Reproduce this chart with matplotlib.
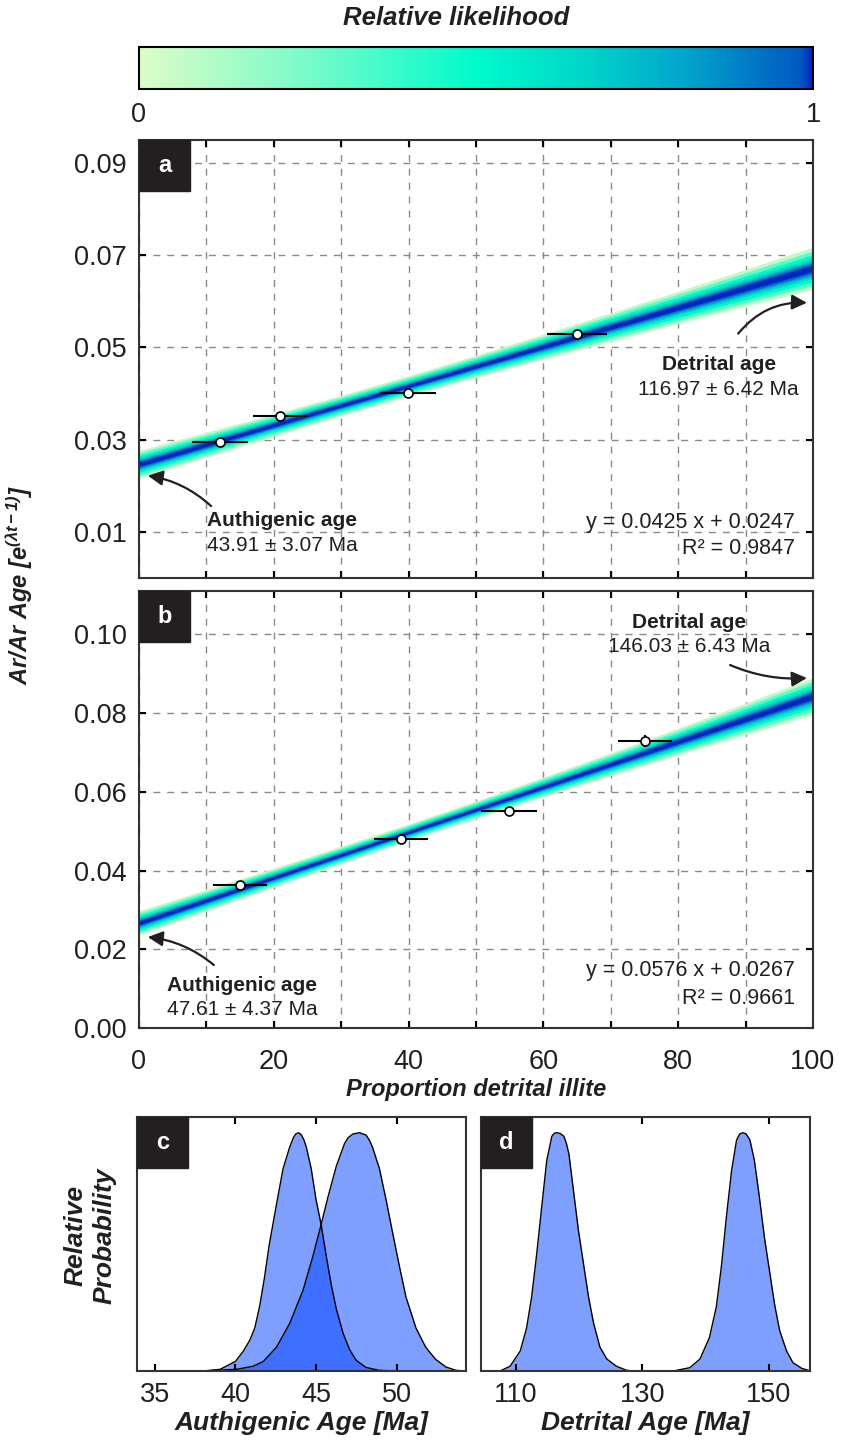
import numpy as np
import matplotlib
matplotlib.use("Agg")
import matplotlib.pyplot as plt
from matplotlib.colors import LinearSegmentedColormap, Normalize
from matplotlib.cm import ScalarMappable
from matplotlib.patches import Rectangle
from matplotlib.ticker import MultipleLocator

plt.rcParams['font.family'] = ['Liberation Sans', 'DejaVu Sans']
plt.rcParams['mathtext.fontset'] = 'custom'
plt.rcParams['mathtext.rm'] = 'Liberation Sans:bold:italic'
plt.rcParams['mathtext.it'] = 'Liberation Sans:bold:italic'
plt.rcParams['mathtext.bf'] = 'Liberation Sans:bold:italic'

# ---- panel a data
a_x = [12.0, 20.9, 39.9, 65.0]
a_y = [0.0294, 0.0351, 0.0402, 0.0530]
a_xerr = [4.2, 4.0, 4.2, 4.5]
a_yerr = [0.0004, 0.0004, 0.0005, 0.0008]
a_slope, a_icpt, a_r2 = 0.0425, 0.0247, 0.9847
a_auth, a_auth_err = 43.91, 3.07
a_detr, a_detr_err = 116.97, 6.42

# ---- panel b data
b_x = [15.0, 38.9, 54.9, 75.1]
b_y = [0.0363, 0.0481, 0.0552, 0.0730]
b_xerr = [4.0, 4.0, 4.2, 4.0]
b_yerr = [0.0005, 0.0006, 0.0010, 0.0015]
b_slope, b_icpt, b_r2 = 0.0576, 0.0267, 0.9661
b_auth, b_auth_err = 47.61, 4.37
b_detr, b_detr_err = 146.03, 6.43

# band half widths (x = 0,10,...,100)
band_x = [0, 10, 20, 30, 40, 50, 60, 70, 80, 90, 100]
a_band_hw = [0.0030, 0.0027, 0.0024, 0.0022, 0.0022, 0.0024, 0.0027, 0.0031, 0.0035, 0.0040, 0.0046]
b_band_hw = [0.0031, 0.0027, 0.0024, 0.0022, 0.0021, 0.0022, 0.0025, 0.0029, 0.0034, 0.0040, 0.0047]
# band layers: fraction of half width, likelihood
layer_frac = [1.0, 0.82, 0.64, 0.48, 0.36, 0.26, 0.16]
layer_like = [0.08, 0.3, 0.5, 0.65, 0.8, 0.94, 1.0]

# ---- panels c, d : relative probability curves
c1_x = [38.0, 39.05, 40.0, 40.5, 40.9, 41.2, 41.5, 41.8, 42.1, 42.55, 42.96, 43.37, 43.6, 43.75,
        43.93, 44.1, 44.25, 44.4, 44.7, 45.0, 45.33, 45.64, 45.95, 46.26, 46.67, 47.08, 47.49,
        48.1, 48.9, 49.96]
c1_y = [0.0, 0.007, 0.04, 0.084, 0.13, 0.18, 0.27, 0.39, 0.53, 0.70, 0.85, 0.94, 0.98, 0.995,
        1.0, 0.99, 0.97, 0.94, 0.85, 0.72, 0.61, 0.48, 0.36, 0.26, 0.16, 0.09, 0.045,
        0.015, 0.003, 0.0]
c2_x = [38.0, 40.08, 41.1, 41.73, 42.55, 43.37, 44.2, 44.8, 45.3, 45.74, 46.26, 46.77, 47.0,
        47.3, 47.7, 48.1, 48.3, 48.5, 48.93, 49.34, 49.75, 50.17, 50.58, 51.2, 51.8, 52.4,
        53.05, 53.66, 54.2]
c2_y = [0.0, 0.007, 0.02, 0.04, 0.10, 0.20, 0.34, 0.48, 0.61, 0.73, 0.86, 0.955, 0.98,
        0.995, 1.0, 0.99, 0.97, 0.94, 0.85, 0.72, 0.58, 0.44, 0.31, 0.18, 0.10, 0.05,
        0.017, 0.003, 0.0]
d1_x = [107.5, 109.1, 110.7, 111.7, 112.5, 113.3, 114.1, 114.9, 115.7, 116.1, 116.5, 117.0,
        117.6, 118.0, 118.4, 119.1, 119.9, 120.7, 121.5, 122.3, 123.3, 124.4, 125.9, 127.5, 128.6]
d1_y = [0.0, 0.02, 0.084, 0.18, 0.31, 0.49, 0.69, 0.885, 0.985, 0.998, 1.0, 0.997,
        0.985, 0.955, 0.91, 0.76, 0.59, 0.45, 0.31, 0.20, 0.10, 0.05, 0.02, 0.003, 0.0]
d2_x = [134.9, 137.5, 139.1, 140.6, 141.7, 142.5, 143.3, 144.1, 144.9, 145.4, 145.9, 146.4,
        147.0, 147.7, 148.5, 149.3, 150.1, 150.9, 151.7, 152.8, 153.8, 155.2, 156.2]
d2_y = [0.0, 0.014, 0.05, 0.14, 0.27, 0.44, 0.65, 0.84, 0.97, 0.995, 1.0, 0.995,
        0.97, 0.885, 0.73, 0.56, 0.42, 0.28, 0.17, 0.084, 0.035, 0.011, 0.003]

cmap = LinearSegmentedColormap.from_list('lik', [
    (0.0, '#dcfdc6'), (0.25, '#78fbca'), (0.5, '#00fbcb'), (0.66, '#00d6c9'),
    (0.82, '#00a2cb'), (0.985, '#0058c2'), (1.0, '#0028c0')])

W, H = 841, 1440
fig = plt.figure(figsize=(W / 100, H / 100), dpi=100)
INK = '#231f20'
TICK_FS = 19.5


def px_axes(l, t, r, b):
    return fig.add_axes([l / W, 1 - b / H, (r - l) / W, (b - t) / H])


def label_box(ax, letter, size=51):
    pos = ax.get_position()
    w = size / (pos.width * W)
    h = size / (pos.height * H)
    ax.add_patch(Rectangle((0, 1 - h), w, h, transform=ax.transAxes,
                           color=INK, zorder=10, clip_on=False))
    ax.text(w / 2, 1 - h / 2, letter, transform=ax.transAxes, color='white',
            fontsize=17, fontweight='bold', ha='center', va='center', zorder=11)


def style_spines(ax):
    for s in ax.spines.values():
        s.set_color('#333333')
        s.set_linewidth(1.5)
    ax.tick_params(direction='in', top=True, right=True, length=5, width=1.5,
                   colors='#000000', labelcolor='#231f20', labelsize=TICK_FS)


# ---- colorbar
cax = px_axes(139, 47, 813, 89)
sm = ScalarMappable(norm=Normalize(0, 1), cmap=cmap)
cb = fig.colorbar(sm, cax=cax, orientation='horizontal', ticks=[0, 1])
cb.ax.set_xticklabels(['0', '1'])
cb.ax.tick_params(length=0, labelsize=TICK_FS, pad=9, labelcolor='#231f20')
cb.outline.set_linewidth(1.5)
fig.text(456 / W, 1 - 18 / H, 'Relative likelihood', fontsize=18.5,
         fontweight='bold', style='italic', ha='center', va='center', color=INK)


def regression_panel(ax, xs, ys, xerr, yerr, slope, icpt, hw, ylim, yticks):
    bx = np.array(band_x, dtype=float)
    centre = slope * bx / 100 + icpt
    hw = np.array(hw)
    for f, lk in zip(layer_frac, layer_like):
        ax.fill_between(bx, centre - f * hw, centre + f * hw, color=cmap(lk),
                        lw=0, zorder=2)
    ax.errorbar(xs, ys, xerr=xerr, yerr=yerr, fmt='o', ms=6.5, mfc='white',
                mec='black', mew=1.2, ecolor='black', elinewidth=1.5, capsize=0, zorder=5)
    ax.set_xlim(0, 100)
    ax.set_ylim(*ylim)
    ax.set_yticks(yticks)
    ax.yaxis.set_major_formatter(matplotlib.ticker.FormatStrFormatter('%.2f'))
    ax.grid(True, which='both', axis='x', ls=(0, (5, 5)), color='#8a8a8a', lw=1)
    ax.grid(True, which='major', axis='y', ls=(0, (5, 5)), color='#8a8a8a', lw=1)
    ax.set_axisbelow(True)
    style_spines(ax)
    ax.tick_params(axis='y', pad=9)
    ax.tick_params(which='minor', direction='in', top=True, length=5, width=1.5)


def arrow(ax, head, tail, rad):
    ax.annotate('', xy=head, xytext=tail,
                arrowprops=dict(arrowstyle='-|>,head_length=0.9,head_width=0.45',
                                connectionstyle='arc3,rad=%s' % rad, color=INK,
                                lw=1.6, shrinkA=0, shrinkB=0), zorder=6)


# ---- panel a
ax_a = px_axes(139, 140, 813, 578)
regression_panel(ax_a, a_x, a_y, a_xerr, a_yerr, a_slope, a_icpt, a_band_hw,
                 (0, 0.095), [0.01, 0.03, 0.05, 0.07, 0.09])
ax_a.xaxis.set_major_locator(MultipleLocator(10))
ax_a.set_xticklabels([])
label_box(ax_a, 'a')
ax_a.text(21.2, 0.0124, 'Authigenic age', fontsize=15, fontweight='bold',
          ha='center', va='center', color=INK)
ax_a.text(21.2, 0.0070, '%.2f ± %.2f Ma' % (a_auth, a_auth_err), fontsize=15,
          ha='center', va='center', color=INK)
ax_a.text(86.0, 0.0464, 'Detrital age', fontsize=15, fontweight='bold',
          ha='center', va='center', color=INK)
ax_a.text(86.0, 0.0408, '%.2f ± %.2f Ma' % (a_detr, a_detr_err), fontsize=15,
          ha='center', va='center', color=INK)
ax_a.text(97.3, 0.0121, 'y = %.4f x + %.4f' % (a_slope, a_icpt), fontsize=15.5,
          ha='right', va='center', color=INK)
ax_a.text(97.3, 0.0064, 'R² = %.4f' % a_r2, fontsize=15.5, ha='right', va='center', color=INK)
arrow(ax_a, (1.3, 0.0222), (10.7, 0.0156), 0.15)
arrow(ax_a, (99.1, 0.0597), (88.9, 0.0530), -0.25)

# ---- panel b
ax_b = px_axes(139, 591, 813, 1028)
regression_panel(ax_b, b_x, b_y, b_xerr, b_yerr, b_slope, b_icpt, b_band_hw,
                 (0, 0.111), [0.0, 0.02, 0.04, 0.06, 0.08, 0.10])
ax_b.xaxis.set_major_locator(MultipleLocator(20))
ax_b.xaxis.set_minor_locator(MultipleLocator(10))
ax_b.tick_params(axis='x', pad=15)
label_box(ax_b, 'b')
ax_b.text(15.3, 0.0107, 'Authigenic age', fontsize=15, fontweight='bold',
          ha='center', va='center', color=INK)
ax_b.text(15.3, 0.0046, '%.2f ± %.2f Ma' % (b_auth, b_auth_err), fontsize=15,
          ha='center', va='center', color=INK)
ax_b.text(81.6, 0.1031, 'Detrital age', fontsize=15, fontweight='bold',
          ha='center', va='center', color=INK)
ax_b.text(81.6, 0.0968, '%.2f ± %.2f Ma' % (b_detr, b_detr_err), fontsize=15,
          ha='center', va='center', color=INK)
ax_b.text(97.3, 0.0147, 'y = %.4f x + %.4f' % (b_slope, b_icpt), fontsize=15.5,
          ha='right', va='center', color=INK)
ax_b.text(97.3, 0.0076, 'R² = %.4f' % b_r2, fontsize=15.5, ha='right', va='center', color=INK)
arrow(ax_b, (1.3, 0.0231), (11.1, 0.0160), 0.15)
arrow(ax_b, (99.1, 0.0889), (87.7, 0.0922), 0.12)
ax_b.set_xlabel('Proportion detrital illite', fontsize=17, fontweight='bold',
                style='italic', color=INK, labelpad=2)

fig.text(20 / W, 1 - 585 / H, r'Ar/Ar Age [e$^{(\lambda t-1)}$]', rotation=90,
         fontsize=17, fontweight='bold', style='italic', ha='center', va='center', color=INK)

# ---- panels c and d
BLUE = '#0040ff'


def prob_panel(ax, curves, xlim, xticks, xlabel, letter):
    for xs, ys in curves:
        ax.fill_between(xs, 0, ys, color=BLUE, alpha=0.5, lw=0)
        ax.plot(xs, ys, color='black', lw=1.0)
    ax.set_xlim(*xlim)
    ax.set_ylim(0, 1.066)
    ax.set_xticks(xticks)
    ax.set_yticks([])
    style_spines(ax)
    ax.tick_params(axis='x', pad=8)
    ax.set_xlabel(xlabel, fontsize=19, fontweight='bold', style='italic', color=INK,
                  labelpad=2)
    label_box(ax, letter)


ax_c = px_axes(137, 1117, 466, 1371)
prob_panel(ax_c, [(c1_x, c1_y), (c2_x, c2_y)], (33.9, 54.3), [35, 40, 45, 50],
           'Authigenic Age [Ma]', 'c')
ax_d = px_axes(481, 1117, 810, 1371)
prob_panel(ax_d, [(d1_x, d1_y), (d2_x, d2_y)], (104.5, 156.5), [110, 130, 150],
           'Detrital Age [Ma]', 'd')
fig.text(90 / W, 1 - 1236 / H, 'Relative\nProbability', rotation=90, fontsize=19,
         fontweight='bold', style='italic', ha='center', va='center', color=INK,
         linespacing=1.25)

fig.savefig('out.png', dpi=100)
